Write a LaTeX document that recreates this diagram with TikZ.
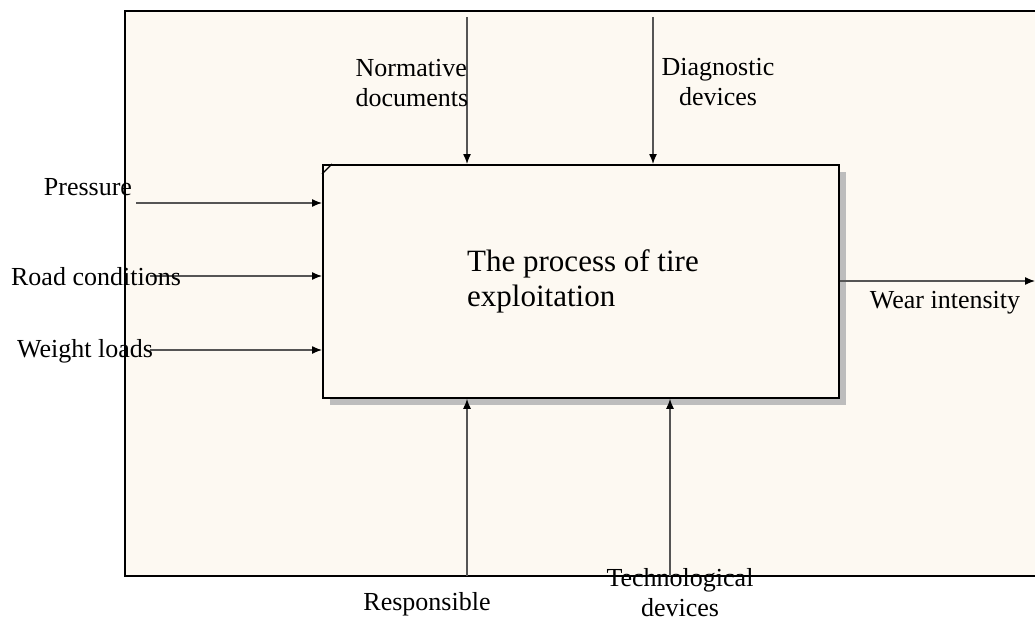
\documentclass[tikz,border=0pt]{standalone}
\usepackage{fontspec}
\setmainfont{Liberation Serif}
\usetikzlibrary{arrows.meta}
\definecolor{cream}{HTML}{FDF9F2}
\definecolor{arrowgray}{HTML}{555555}
\definecolor{shadowgray}{HTML}{BDBDBD}
\begin{document}
\begin{tikzpicture}[x=1pt,y=-1pt,
  lbl/.style={inner sep=0pt, align=center, font=\fontsize{26}{30}\selectfont},
  flow/.style={draw=arrowgray, line width=1.3pt, -{Latex[length=10pt,width=8pt,color=black]}},
  plain/.style={draw=arrowgray, line width=1.3pt}]
\useasboundingbox (0,0) rectangle (1035,623);
\fill[white] (0,0) rectangle (1035,623);
% outer frame
\fill[cream] (125,11) rectangle (1036,576);
\draw[line width=2pt] (1036,11) -- (125,11) -- (125,576) -- (1036,576);
% shadow and box
\fill[shadowgray] (330,172) rectangle (846,405);
\node[draw, line width=1.8pt, fill=cream, minimum width=516pt, minimum height=233pt, anchor=north west, inner sep=0pt] (box) at (322,164) {};
\draw[line width=1.2pt] (332,164) -- (322,174);
\node[anchor=north west, inner sep=0pt, align=left, font=\fontsize{31}{35}\selectfont] (title) at (467,249) {The process of tire\\exploitation};
% free ends
\coordinate (pin) at (136,203);
\coordinate (rin) at (150,276);
\coordinate (win) at (150,350);
\coordinate (nin) at (467,17);
\coordinate (din) at (653,17);
\coordinate (resin) at (467,576);
\coordinate (tin) at (670,576);
\coordinate (wout) at (1035,281);
% connectors
\draw[flow] (pin) -- (box.west |- pin);
\draw[flow] (rin) -- (box.west |- rin);
\draw[flow] (win) -- (box.west |- win);
\draw[flow] (nin) -- (box.north -| nin);
\draw[flow] (din) -- (box.north -| din);
\draw[flow] (resin) -- (box.south -| resin);
\draw[flow] (tin) -- (box.south -| tin);
\draw[flow] (box.east |- wout) -- (wout);
% labels
\node[lbl] (lp) at (88,187) {Pressure};
\node[lbl] (lr) at (96,277) {Road conditions};
\node[lbl] (lw) at (85,351) {Weight loads};
\node[lbl, align=left] (ln) at (412,83) {Normative\\documents};
\node[lbl] (ld) at (718,82) {Diagnostic\\devices};
\node[lbl] (lres) at (427,604) {Responsible};
\node[lbl] (lt) at (680,593) {Technological\\devices};
\node[lbl] (lwo) at (945,303) {Wear intensity};
\end{tikzpicture}
\end{document}
